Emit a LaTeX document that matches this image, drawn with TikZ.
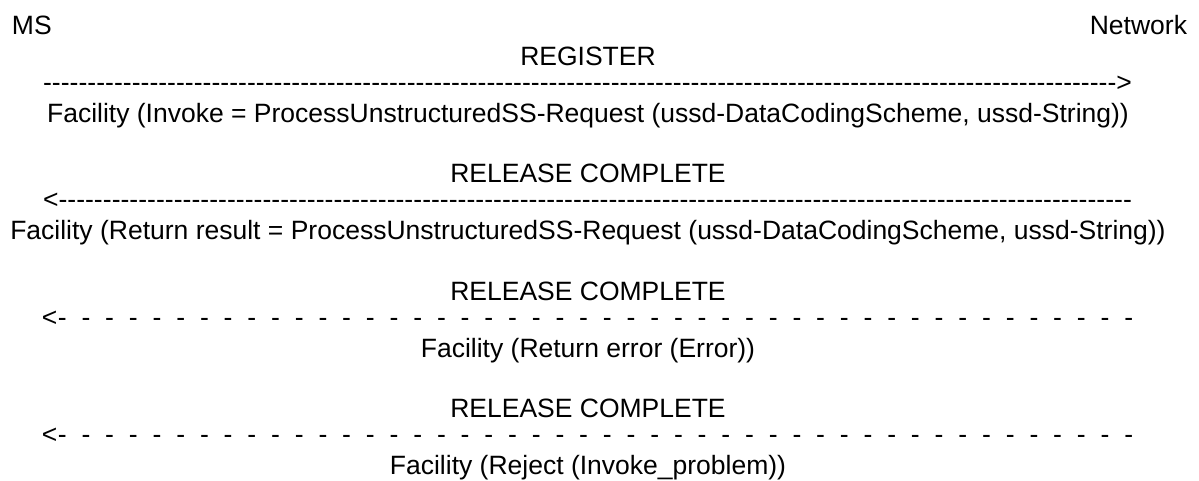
\documentclass[tikz,border=0pt]{standalone}
\usepackage{fontspec}
\newfontfamily\arial{Liberation Sans}
\newcommand\solidrun[1]{\hbox to #1{\xleaders\hbox{-}\hfill}}
\newcommand\gaprun[1]{\hbox to #1{\xleaders\hbox to 23.2pt{-\hfil}\hfill}}
\tikzset{
  lbl/.style={inner sep=0pt, outer sep=0pt, anchor=base,
    font=\arial\fontsize{26.5}{30}\selectfont, text=black},
}
\begin{document}
\begin{tikzpicture}[x=1pt,y=-1pt]
\useasboundingbox (0,0) rectangle (1199,480);
\node[lbl, anchor=base west] (ms) at (12,34) {MS};
\node[lbl, anchor=base east] (net) at (1187,34) {Network};

\node[lbl] (reg) at (588,65) {REGISTER};
\node[lbl] (m1) at (587.5,91) {\solidrun{1073.5pt}>};
\node[lbl] (f1) at (588,122) {Facility (Invoke = ProcessUnstructuredSS-Request (ussd-DataCodingScheme, ussd-String))};

\node[lbl] (rc1) at (588,182.5) {RELEASE COMPLETE};
\node[lbl] (m2) at (587.5,208.5) {<\solidrun{1073.5pt}};
\node[lbl] (f2) at (588,239.5) {Facility (Return result = ProcessUnstructuredSS-Request (ussd-DataCodingScheme, ussd-String))};

\node[lbl] (rc2) at (588,300) {RELEASE COMPLETE};
\node[lbl] (m3) at (587.5,326) {<\gaprun{1067pt}-};
\node[lbl] (f3) at (588,357) {Facility (Return error (Error))};

\node[lbl] (rc3) at (588,417.5) {RELEASE COMPLETE};
\node[lbl] (m4) at (587.5,443.5) {<\gaprun{1067pt}-};
\node[lbl] (f4) at (588,474.5) {Facility (Reject (Invoke\_problem))};
\end{tikzpicture}
\end{document}
